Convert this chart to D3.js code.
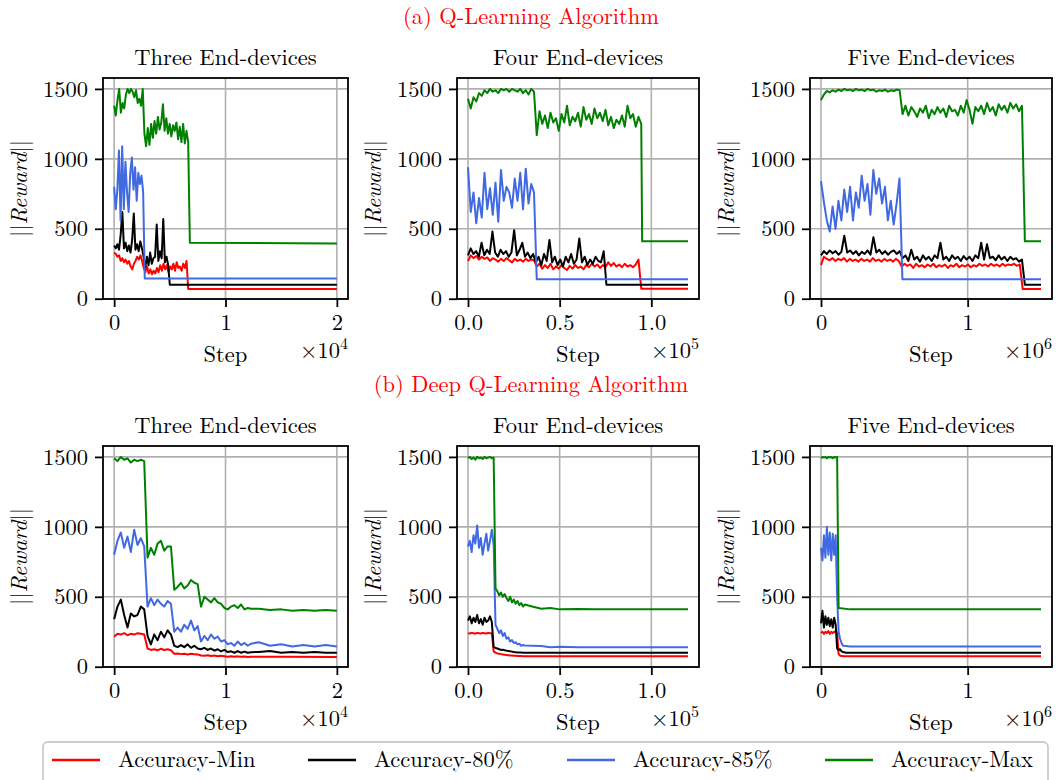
<!DOCTYPE html>
<html>
<head>
<meta charset="utf-8">
<script src="https://cdn.jsdelivr.net/npm/d3@7"></script>
</head>
<body style="margin:0;background:#fff">
<svg id="chart" width="1062" height="780"></svg>
<script>
// ---- labels ----
const seriesNames = ["Accuracy-Min", "Accuracy-80%", "Accuracy-85%", "Accuracy-Max"];
const seriesColors = ["#ff0000", "#000000", "#4169e1", "#008000"];
const rowTitles = ["(a) Q-Learning Algorithm", "(b) Deep Q-Learning Algorithm"];
const panelTitles = ["Three End-devices", "Four End-devices", "Five End-devices"];
const stepExp = [4, 5, 6];
const stepMax = [2, 1.2, 1.5];
const xTicks = [[0, 1, 2], [0, 0.5, 1.0], [0, 1]];
const xTickLabels = [["0", "1", "2"], ["0.0", "0.5", "1.0"], ["0", "1"]];
const yTicks = [0, 500, 1000, 1500];

// ---- reward values ----
// each series: values evenly spaced from step 0 up to the first tail point,
// then the tail points [step, value] (step in units of 10^stepExp)

// Q-learning, three end-devices
const q3Min = [330,320,300,310,270,290,260,280,250,270,230,210,250,270,300,280,310,270,220,190,230,180,210,175,200,180,220,190,240,200,250,210,240,190,230,210,250,200,260,220,230,200,250,220,270];
const q3MinTail = [[0.665, 70], [2, 70]];
const q3P80 = [380,360,390,350,460,620,360,400,340,380,330,420,610,350,390,340,410,360,300,220,300,240,330,250,290,300,530,270,340,290,570,260,300,240];
const q3P80Tail = [[0.5, 100], [2, 100]];
const q3P85 = [800,640,780,1060,560,1090,640,980,760,620,900,1010,780,940,700,900,820,880,760];
const q3P85Tail = [[0.275, 145], [2, 145]];
const q3Max = [1380,1310,1420,1500,1330,1400,1360,1460,1500,1470,1500,1480,1440,1490,1400,1430,1380,1500,1180,1090,1220,1100,1250,1150,1270,1180,1300,1210,1260,1390,1200,1290,1180,1250,1160,1240,1200,1260,1140,1230,1120,1250,1110,1200,1120];
const q3MaxTail = [[0.68, 400], [2, 395]];

// Q-learning, four end-devices
const q4Min = [270,310,290,305,280,300,285,295,270,290,280,265,285,270,290,275,260,285,270,280,265,285,270,280,275,230,250,215,240,220,250,210,230,215,240,220,205,235,215,240,220,230,210,240,225,250,230,245,220,240,225,260,235,255,230,245,225,250,230,240,225,245,280];
const q4MinTail = [[0.945, 72], [1.2, 72]];
const q4P80 = [310,360,320,340,300,400,310,350,320,480,330,300,350,320,340,300,330,490,310,350,400,300,330,290,320,260,300,240,320,270,420,260,300,240,280,230,300,260,320,250,280,430,260,300,240,280,250,300,270,260,340];
const q4P80Tail = [[0.755, 100], [1.2, 100]];
const q4P85 = [940,620,760,540,720,580,900,640,790,600,830,550,920,700,800,760,650,860,700,900,640,930,680,820,760];
const q4P85Tail = [[0.375, 140], [1.2, 140]];
const q4Max = [1430,1360,1440,1410,1470,1450,1490,1470,1500,1480,1490,1470,1500,1490,1500,1480,1500,1490,1480,1500,1470,1490,1460,1500,1480,1170,1340,1250,1310,1220,1330,1260,1290,1200,1320,1260,1380,1240,1300,1270,1330,1230,1370,1280,1320,1250,1360,1290,1330,1270,1350,1240,1300,1220,1280,1250,1310,1230,1380,1290,1320,1230,1300];
const q4MaxTail = [[0.945, 1250], [0.95, 410], [1.2, 410]];

// Q-learning, five end-devices
const q5Min = [240,300,285,275,290,270,285,275,290,265,285,270,280,265,285,270,280,265,290,270,280,265,285,270,280,265,285,270,230,250,235,245,220,250,230,240,225,245,230,250,225,240,230,245,220,240,230,250,225,240,230,245,225,240,230,250,235,245,230,250,235,245,230,250,235,245,240,250,235,245];
const q5MinTail = [[1.375, 70], [1.5, 70]];
const q5P80 = [310,340,320,345,325,340,315,335,450,330,345,320,340,310,335,320,345,315,440,330,350,320,340,315,335,345,320,340,290,310,270,350,280,300,265,310,280,300,270,310,290,400,280,300,270,310,285,300,270,305,280,300,270,310,290,400,280,390,290,300,275,310,280,300,270,300,280,290,265,280];
const q5P80Tail = [[1.39, 100], [1.5, 100]];
const q5P85 = [840,690,560,480,660,500,700,560,780,620,800,560,760,650,880,700,820,600,920,750,860,680,800,560,700,530,680,860];
const q5P85Tail = [[0.555, 140], [1.5, 140]];
const q5Max = [1420,1460,1485,1475,1490,1480,1495,1485,1500,1490,1495,1485,1500,1490,1495,1485,1500,1490,1495,1480,1490,1485,1495,1480,1490,1485,1495,1490,1320,1380,1310,1370,1340,1300,1360,1330,1380,1290,1350,1320,1370,1330,1360,1300,1380,1340,1350,1310,1380,1330,1420,1350,1250,1370,1340,1380,1320,1400,1340,1370,1310,1390,1350,1380,1330,1400,1360,1390,1340,1380];
const q5MaxTail = [[1.39, 410], [1.5, 410]];

// Deep Q-learning, three end-devices
const dq3Min = [215,235,230,240,225,235,230,240,235,230,130,120,125,118,128,120,125,118,92,95,90,93,88,92,90,88,80,78,82,76,80,75,78,75,72,75,72,74,71,73,70];
const dq3MinTail = [[1.23, 72], [1.5, 71], [2, 70]];
const dq3P80 = [340,430,480,370,280,380,360,370,430,410,220,160,230,190,250,210,260,230,150,140,155,140,160,135,150,130,125,135,120,130,115,125,110,120,105,110,100,112,100,108,100];
const dq3P80Tail = [[1.23, 104], [1.3, 105], [1.4, 112], [1.5, 100], [1.6, 105], [1.7, 100], [1.8, 105], [1.9, 100], [2, 100]];
const dq3P85 = [800,900,960,850,930,820,980,870,920,860,430,490,440,480,450,430,470,450,250,280,250,300,270,330,260,290,180,220,190,230,200,215,180,190,160,170,150,180,155,170,150];
const dq3P85Tail = [[1.23, 165], [1.3, 175], [1.4, 150], [1.5, 160], [1.6, 145], [1.7, 155], [1.8, 145], [1.9, 155], [2, 145]];
const dq3Max = [1490,1470,1500,1480,1490,1460,1480,1470,1480,1470,780,850,800,880,900,830,860,860,550,570,600,560,580,620,600,590,430,500,480,460,490,460,450,420,410,430,440,420,445,410,420];
const dq3MaxTail = [[1.23, 415], [1.3, 415], [1.4, 405], [1.5, 410], [1.6, 400], [1.7, 405], [1.8, 400], [1.9, 405], [2, 400]];

// Deep Q-learning, four end-devices
const dq4Min = [240,238,242,240,236,242,240,238,242,240,238,242,240,240,110,100,95,92,90,88,86,84,82,80,80,78,78,77,76,76,75];
const dq4MinTail = [[0.31, 75], [1.2, 74]];
const dq4P80 = [330,360,310,350,320,370,310,340,300,350,320,330,360,320,140,135,130,125,120,122,118,115,112,110,108,105,104,102,102,101,100];
const dq4P80Tail = [[0.31, 100], [1.2, 100]];
const dq4P85 = [860,900,820,940,880,1010,850,920,800,880,950,830,900,980,870,300,270,240,260,220,240,200,210,180,190,170,175,160,165,150,155];
const dq4P85Tail = [[0.31, 152], [0.35, 150], [0.4, 148], [0.45, 140], [0.5, 142], [0.6, 140], [1.2, 140]];
const dq4Max = [1490,1500,1485,1495,1480,1500,1490,1495,1485,1500,1490,1495,1500,1490,1495,560,540,510,530,500,520,490,470,500,460,480,450,470,440,455,430];
const dq4MaxTail = [[0.31, 445], [0.35, 430], [0.4, 415], [0.45, 420], [0.5, 410], [0.6, 412], [0.7, 410], [1.2, 410]];

// Deep Q-learning, five end-devices
const dq5Min = [240,250,235,250,240,255,235,250,240,250,245,245];
const dq5MinTail = [[0.12, 90], [0.13, 80], [0.14, 76], [0.16, 75], [1.5, 74]];
const dq5P80 = [310,400,280,360,300,350,290,340,280,350,300];
const dq5P80Tail = [[0.11, 130], [0.12, 120], [0.13, 125], [0.14, 110], [0.15, 105], [0.17, 100], [1.5, 100]];
const dq5P85 = [850,760,940,780,1000,800,960,760,950,800,940];
const dq5P85Tail = [[0.11, 500], [0.12, 250], [0.13, 200], [0.14, 170], [0.15, 150], [0.2, 145], [1.5, 145]];
const dq5Max = [1490,1500,1495,1500,1490,1500,1495,1500,1490,1500,1495,1500];
const dq5MaxTail = [[0.12, 420], [0.2, 410], [1.5, 410]];

const panels = [
    [[q3Min, q3MinTail], [q3P80, q3P80Tail], [q3P85, q3P85Tail], [q3Max, q3MaxTail]],
    [[q4Min, q4MinTail], [q4P80, q4P80Tail], [q4P85, q4P85Tail], [q4Max, q4MaxTail]],
    [[q5Min, q5MinTail], [q5P80, q5P80Tail], [q5P85, q5P85Tail], [q5Max, q5MaxTail]],
    [[dq3Min, dq3MinTail], [dq3P80, dq3P80Tail], [dq3P85, dq3P85Tail], [dq3Max, dq3MaxTail]],
    [[dq4Min, dq4MinTail], [dq4P80, dq4P80Tail], [dq4P85, dq4P85Tail], [dq4Max, dq4MaxTail]],
    [[dq5Min, dq5MinTail], [dq5P80, dq5P80Tail], [dq5P85, dq5P85Tail], [dq5Max, dq5MaxTail]]
];

function toPoints(vals, tail) {
    var t0 = tail[0][0];
    return vals.map(function(v, i) { return [i * t0 / vals.length, v]; }).concat(tail);
}

// ---- layout ----
var svg = d3.select("#chart");
var fs = 22.5;
var serif = "'Latin Modern Roman', 'Liberation Serif', serif";
var colLeft = [103, 457, 810], colWidth = [245, 242, 242];
var rowTop = [78, 446], plotH = 221, rowGap = 368;

function label(sel) {
    return sel.style("font-family", serif).style("font-size", fs + "px").style("fill", "#000");
}

rowTitles.forEach(function(t, r) {
    svg.append("text")
        .attr("x", 531).attr("y", 24 + r * rowGap)
        .attr("text-anchor", "middle")
        .call(label)
        .style("fill", "#ff0000")
        .text(t);
});

panels.forEach(function(series, k) {
    var r = Math.floor(k / 3), c = k % 3;
    var left = colLeft[c], top = rowTop[r], w = colWidth[c];

    var x = d3.scaleLinear()
        .domain([-0.05 * stepMax[c], 1.05 * stepMax[c]])
        .range([0, w]);
    var y = d3.scaleLinear()
        .domain([-2, 1578])
        .range([plotH, 0]);

    var g = svg.append("g")
        .attr("transform", "translate(" + left + "," + top + ")");

    // grid
    g.append("g").selectAll("line").data(xTicks[c]).join("line")
        .attr("x1", d => x(d)).attr("x2", d => x(d))
        .attr("y1", 0).attr("y2", plotH)
        .attr("stroke", "#b0b0b0").attr("stroke-width", 1.6);
    g.append("g").selectAll("line").data(yTicks).join("line")
        .attr("y1", d => y(d)).attr("y2", d => y(d))
        .attr("x1", 0).attr("x2", w)
        .attr("stroke", "#b0b0b0").attr("stroke-width", 1.6);

    // lines
    var line = d3.line().x(d => x(d[0])).y(d => y(d[1]));
    series.forEach(function(s, j) {
        g.append("path")
            .datum(toPoints(s[0], s[1]))
            .attr("d", line)
            .attr("fill", "none")
            .attr("stroke", seriesColors[j])
            .attr("stroke-width", 2)
            .attr("stroke-linejoin", "round");
    });

    // frame
    g.append("rect")
        .attr("width", w).attr("height", plotH)
        .attr("fill", "none").attr("stroke", "#000").attr("stroke-width", 1.8);

    // axes
    var xa = g.append("g")
        .attr("transform", "translate(0," + plotH + ")")
        .call(d3.axisBottom(x).tickValues(xTicks[c])
            .tickFormat((d, i) => xTickLabels[c][i])
            .tickSize(8).tickPadding(7));
    var ya = g.append("g")
        .call(d3.axisLeft(y).tickValues(yTicks)
            .tickFormat(d3.format("d"))
            .tickSize(8).tickPadding(7));
    [xa, ya].forEach(function(a) {
        a.select(".domain").remove();
        a.selectAll(".tick text").call(label);
        a.selectAll(".tick line").attr("stroke-width", 1.8);
    });

    // titles and labels
    g.append("text")
        .attr("x", w / 2).attr("y", -13.5)
        .attr("text-anchor", "middle")
        .call(label)
        .text(panelTitles[c]);

    g.append("text")
        .attr("x", w / 2).attr("y", plotH + 63)
        .attr("text-anchor", "middle")
        .call(label)
        .text("Step");

    var off = g.append("text")
        .attr("x", w).attr("y", plotH + 59)
        .attr("text-anchor", "end")
        .call(label);
    off.append("tspan").text("\u00d710");
    off.append("tspan").attr("dy", -9).style("font-size", "16px").text(stepExp[c]);

    var yl = g.append("text")
        .attr("transform", "translate(-84," + (plotH / 2) + ") rotate(-90)")
        .attr("text-anchor", "middle")
        .attr("dy", "0.35em")
        .call(label);
    yl.append("tspan").text("||");
    yl.append("tspan").style("font-style", "italic").text("Reward");
    yl.append("tspan").text("||");
});

// ---- legend ----
var legend = svg.append("g");
legend.append("rect")
    .attr("x", 43).attr("y", 742).attr("width", 1005).attr("height", 50)
    .attr("rx", 5)
    .attr("fill", "#fff").attr("stroke", "#cccccc").attr("stroke-width", 1.8);
var legX = [52, 308, 567, 825];
seriesNames.forEach(function(name, j) {
    legend.append("line")
        .attr("x1", legX[j]).attr("x2", legX[j] + 48)
        .attr("y1", 760).attr("y2", 760)
        .attr("stroke", seriesColors[j]).attr("stroke-width", 2.5);
    legend.append("text")
        .attr("x", legX[j] + 66).attr("y", 767)
        .call(label)
        .text(name);
});
</script>
</body>
</html>
